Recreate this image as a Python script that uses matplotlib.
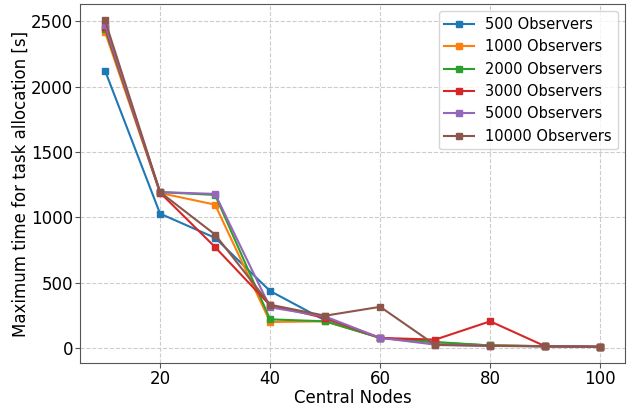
import matplotlib
matplotlib.use('Agg')
import matplotlib.pyplot as plt

central_nodes = [10, 20, 30, 40, 50, 60, 70, 80, 90, 100]

obs_500 = [2122, 1027, 842, 435, 210, 76, 40, 18, 13, 8]
obs_1000 = [2417, 1185, 1096, 198, 203, 78, 30, 20, 12, 8]
obs_2000 = [2440, 1192, 1170, 218, 203, 76, 45, 18, 12, 8]
obs_3000 = [2455, 1188, 771, 325, 228, 76, 63, 203, 12, 8]
obs_5000 = [2473, 1192, 1178, 310, 240, 76, 25, 15, 12, 8]
obs_10000 = [2506, 1192, 867, 330, 246, 314, 22, 15, 12, 8]

series = [
    ('500 Observers', obs_500),
    ('1000 Observers', obs_1000),
    ('2000 Observers', obs_2000),
    ('3000 Observers', obs_3000),
    ('5000 Observers', obs_5000),
    ('10000 Observers', obs_10000),
]

fig, ax = plt.subplots(figsize=(6.32, 4.08), dpi=100)

for label, values in series:
    ax.plot(central_nodes, values, marker='s', markersize=5, linewidth=1.5, label=label)

ax.set_xlabel('Central Nodes', fontsize=12, labelpad=1)
ax.set_ylabel('Maximum time for task allocation [s]', fontsize=12, labelpad=1)
ax.set_xticks([20, 40, 60, 80, 100])
ax.set_yticks([0, 500, 1000, 1500, 2000, 2500])
ax.tick_params(labelsize=12, pad=1.5, color='#555555')
ax.grid(True, linestyle='--', color='#cccccc', linewidth=0.8)
for sp in ax.spines.values():
    sp.set_color('#555555')
ax.legend(loc='upper right', fontsize=10.5)

plt.subplots_adjust(left=0.127, right=0.989, top=0.99, bottom=0.11)
plt.savefig('out.png', dpi=100)
